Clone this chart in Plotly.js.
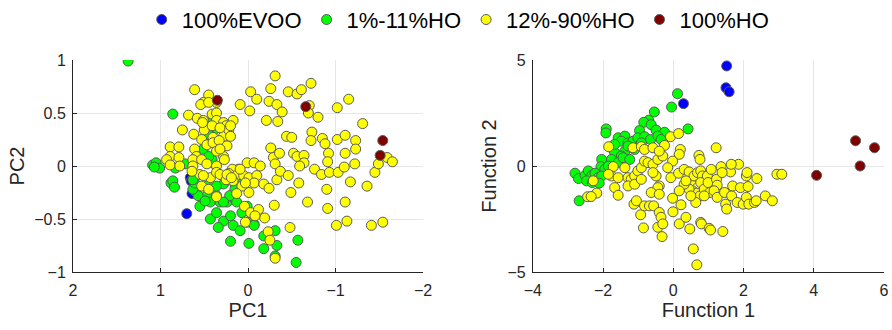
<!DOCTYPE html>
<html><head><meta charset="utf-8">
<script src="https://cdn.plot.ly/plotly-3.0.1.min.js"></script>
<style>html,body{margin:0;padding:0;background:#fff}</style>
</head><body><div id="chart" style="width:892px;height:330px"></div>
<script>
// ---- PCA (left) ----
const pcaEvooPC1 = [0.66, 0.64, 0.70, 0.65];
const pcaEvooPC2 = [-0.11, -0.26, -0.45, -0.14];
const pcaLowPC1 = [1.37,0.86,1.09,1.05,1.01,1.07,0.83,0.88,0.86,0.84,0.72,0.41,0.41,0.38,0.40,0.47,0.43,0.36,0.32,0.24,0.17,0.13,0.43,0.36,0.28,0.20,0.17,0.09,0.01,0.34,0.20,-0.01,-0.07,-0.18,-0.18,-0.31,-0.33,-0.31,-0.55,-0.57,0.28,0.15,0.13,0.07,0.59,0.57,0.63,0.61,0.47,0.36,0.51,0.45,0.43,0.45,0.41,0.63,0.55,0.49,0.15,0.21,0.01,-0.07,0.28];
const pcaLowPC2 = [0.99,0.49,0.01,0.03,-0.02,-0.01,-0.02,-0.16,-0.14,-0.20,0.02,0.03,0.06,0.38,0.33,-0.28,-0.34,-0.28,-0.34,-0.34,-0.30,-0.34,-0.50,-0.44,-0.52,-0.47,-0.56,-0.61,-0.53,-0.58,-0.71,-0.73,-0.55,-0.78,-0.66,-0.61,-0.75,-0.85,-0.91,-0.70,-0.17,-0.17,-0.13,-0.44,-0.25,-0.28,-0.22,-0.16,-0.19,-0.19,0.16,0.09,0.22,0.30,0.42,-0.13,-0.38,-0.33,-0.22,-0.28,-0.38,-0.56,-0.34];
const pcaMidPC1 = [0.61,0.45,0.36,0.51,0.54,0.45,0.09,-0.03,-0.10,-0.24,-0.26,-0.31,-0.46,-0.56,-0.61,-0.72,-0.70,-0.69,-0.80,-1.02,-1.15,-1.31,-0.33,-0.39,-0.21,-0.34,-0.02,0.68,0.58,0.51,0.41,0.36,0.36,0.17,0.28,0.25,0.75,0.62,0.50,0.40,0.28,0.22,0.20,0.89,0.79,0.89,0.93,0.79,0.89,0.61,0.59,0.53,0.47,0.40,0.33,0.24,0.28,0.27,0.36,0.32,0.63,0.63,0.53,0.47,0.36,0.55,0.43,0.36,0.64,-0.26,-0.29,-0.36,-0.44,-0.50,-0.52,-0.56,-0.64,-0.64,-0.59,-0.73,-0.72,-0.85,-0.88,-0.92,-0.91,-1.02,-1.11,-1.11,-1.23,-1.23,-1.22,0.01,-0.07,-0.14,0.11,0.18,0.22,0.32,0.13,0.05,-0.01,-0.10,-0.07,-0.18,-0.24,-0.01,0.07,0.17,0.13,0.25,-0.31,-0.33,-0.37,-0.46,-0.49,-0.58,-0.68,-0.76,-0.84,-0.93,-1.03,-1.10,-1.17,-0.90,-0.91,-1.11,-1.13,-1.01,-1.36,-1.45,-1.49,-1.59,-1.65,-1.41,-1.54,-0.30,0.04,-0.03,-0.12,-0.19,0.03,-0.08,0.36,0.51,0.53,0.45,-0.23,-0.25,-0.31,-0.48,0.24,0.19,0.09,0.03,0.41,0.32,0.20,0.78,0.52];
const pcaMidPC2 = [0.72,0.67,0.60,0.60,0.58,0.60,0.58,0.70,0.63,0.61,0.73,0.85,0.70,0.68,0.72,0.78,0.57,0.50,0.46,0.55,0.63,0.40,0.58,0.51,0.43,0.42,0.52,0.48,0.45,0.43,0.49,0.50,0.43,0.43,0.41,0.38,0.34,0.30,0.34,0.27,0.28,0.34,0.28,0.18,0.18,0.09,0.06,0.08,0.01,0.16,0.09,0.25,0.20,0.22,0.24,0.19,0.09,0.06,0.14,0.16,0.06,0.00,0.06,0.02,0.00,-0.08,-0.11,-0.06,-0.05,0.17,0.08,0.12,0.28,0.27,0.12,0.09,0.10,0.03,0.00,0.32,0.24,0.26,0.21,0.12,0.04,0.25,0.29,0.12,0.24,0.16,0.02,0.03,0.03,0.00,-0.03,-0.03,-0.07,-0.08,-0.09,-0.09,-0.11,-0.09,-0.16,-0.17,-0.21,-0.25,-0.19,-0.14,-0.26,-0.13,0.02,-0.13,-0.05,-0.09,-0.25,-0.16,-0.34,-0.03,-0.08,-0.06,-0.06,-0.01,-0.15,-0.22,-0.40,-0.34,-0.52,-0.56,-0.19,-0.06,0.02,0.08,0.04,-0.56,-0.53,-0.37,-0.38,-0.44,-0.41,-0.49,-0.53,-0.47,-0.29,-0.09,-0.19,-0.22,-0.62,-0.70,-0.87,-0.58,-0.08,-0.11,-0.03,-0.16,0.38,0.36,0.38,0.00,0.41];
const pcaHighPC1 = [0.35, -0.66, -1.54, -1.51];
const pcaHighPC2 = [0.62, 0.56, 0.24, 0.10];

// ---- Discriminant functions (right) ----
const ldaEvooF1 = [1.52, 1.50, 1.59, 0.29];
const ldaEvooF2 = [4.72, 3.69, 3.50, 2.94];
const ldaLowF1 = [0.12,-0.05,-0.54,0.42,-1.91,-1.92,-0.70,-0.84,-0.96,-0.63,-0.49,-0.25,-1.57,-1.38,-1.48,-1.29,-1.15,-1.01,-0.82,-0.65,-0.44,-0.35,-0.91,-1.76,-1.67,-1.38,-1.29,-1.10,-1.48,-1.76,-2.04,-2.06,-1.95,-2.80,-2.70,-2.51,-2.42,-2.32,-2.23,-2.14,-2.04,-2.47,-2.31,-2.11,-2.68,-1.57,-1.43,-1.24,-1.85,-1.67];
const ldaLowF2 = [3.41,2.78,2.55,1.75,1.75,1.56,2.16,2.06,1.67,1.95,1.69,1.59,1.33,1.41,1.17,1.09,1.17,1.33,1.38,1.25,1.41,1.25,1.09,0.86,0.63,0.70,0.94,0.78,0.47,0.31,0.31,-0.03,-0.16,-0.34,-0.59,-0.44,-0.23,-0.44,-0.34,-0.55,-0.47,-0.70,-0.78,-0.81,-1.64,0.16,0.39,0.31,0.00,1.02];
const ldaMidF1 = [-1.84,-1.71,-1.76,-1.57,-1.85,-1.67,-1.57,-2.28,-2.18,-2.44,-2.34,-1.38,-1.29,-1.20,-1.10,-1.01,-0.91,-0.82,-0.72,-0.58,-0.44,-0.30,-0.25,-0.08,0.15,0.20,0.17,-1.15,-0.91,-0.82,-0.58,-0.40,-0.49,-0.40,-0.02,-0.16,-0.07,0.15,0.31,-1.29,-1.10,-0.91,-0.58,-0.44,-0.63,-0.40,-1.12,-1.05,-0.93,-0.82,-0.68,-0.56,-0.85,-0.44,-0.40,-0.35,-0.30,-0.32,-0.02,-0.01,0.22,0.17,0.36,0.47,0.57,0.67,0.78,0.80,1.02,1.06,1.41,0.45,0.50,0.59,0.69,0.78,0.83,0.78,0.55,0.67,0.76,0.64,0.88,0.97,0.99,1.08,1.23,1.25,1.04,1.16,1.25,1.46,1.49,1.52,1.66,1.69,1.63,1.82,1.86,1.91,1.99,2.08,2.10,2.13,2.08,2.15,2.31,2.38,2.36,2.62,2.82,2.95,3.09,0.45,0.31,0.36,0.73,0.76,1.22,1.36,1.65,0.17,0.88,1.39,0.50];
const ldaMidF2 = [0.91,-0.03,-0.47,-0.55,-0.39,-1.02,-1.38,-0.70,-1.28,-1.45,-1.44,-0.08,-0.55,-0.63,-0.47,-0.23,-0.08,0.23,0.16,0.08,0.31,0.47,0.97,1.38,1.53,0.78,0.55,0.86,0.91,0.78,0.86,0.70,-0.47,-0.94,0.23,-0.08,-0.55,-0.34,-0.16,-0.94,-0.86,-0.63,-0.31,-1.02,-1.25,-1.33,-1.80,-1.64,-2.30,-1.88,-1.88,-1.88,-2.92,-2.89,-2.19,-2.42,-2.73,-3.33,-1.52,-2.16,-1.83,-2.73,-2.42,-2.97,-3.91,-4.66,-2.66,-2.73,-2.94,-3.02,-3.09,-0.28,-0.70,-0.47,-0.31,-0.23,-0.47,-0.78,-1.17,-1.28,-1.41,-1.72,-1.09,-0.47,-0.78,-0.16,-0.63,-0.91,-1.25,-1.17,-1.48,-1.25,-1.80,-2.03,-1.41,-0.94,-0.28,-1.72,0.08,-1.02,-1.80,-0.47,-0.31,-0.97,-1.48,-1.80,-1.72,-0.59,-1.64,-1.41,-1.64,-0.39,-0.39,-1.09,-0.86,-0.70,0.50,0.31,0.86,-0.03,0.08,-1.17,-1.41,-0.31,-1.41];
const ldaHighF1 = [4.08, 5.19, 5.32, 5.73];
const ldaHighF2 = [-0.44, 1.19, 0.00, 0.86];

const groupNames = ['100%EVOO', '1%-11%HO', '12%-90%HO', '100%HO'];
const groupColors = ['#0000ff', '#00ff00', '#ffff00', '#800000'];

const pcaX = [pcaEvooPC1, pcaLowPC1, pcaMidPC1, pcaHighPC1];
const pcaY = [pcaEvooPC2, pcaLowPC2, pcaMidPC2, pcaHighPC2];
const ldaX = [ldaEvooF1, ldaLowF1, ldaMidF1, ldaHighF1];
const ldaY = [ldaEvooF2, ldaLowF2, ldaMidF2, ldaHighF2];

const traces = [];
const mk = (i) => ({size: 10, color: groupColors[i], line: {color: '#5a5a5a', width: 1}});
[0, 1, 2, 3].forEach(i => {
  traces.push({type: 'scatter', mode: 'markers', x: pcaX[i], y: pcaY[i], xaxis: 'x', yaxis: 'y',
    name: groupNames[i], legendgroup: groupNames[i], showlegend: true, marker: mk(i)});
  traces.push({type: 'scatter', mode: 'markers', x: ldaX[i], y: ldaY[i], xaxis: 'x2', yaxis: 'y2',
    name: groupNames[i], legendgroup: groupNames[i], showlegend: false, marker: mk(i)});
});

const axisCommon = {
  showgrid: true, gridcolor: '#e6e6e6', gridwidth: 1, zeroline: false,
  showline: true, linecolor: '#262626', linewidth: 1, mirror: false,
  ticks: 'inside', ticklen: 4, tickcolor: '#262626',
  tickfont: {family: 'Liberation Sans, Arial, sans-serif', size: 16, color: '#262626'}
};
const titleFont = {family: 'Liberation Sans, Arial, sans-serif', size: 20, color: '#262626'};

const layout = {
  width: 892, height: 330,
  margin: {l: 73, r: 8, t: 60, b: 58, autoexpand: false},
  paper_bgcolor: '#ffffff', plot_bgcolor: '#ffffff',
  showlegend: true,
  legend: {orientation: 'h', x: 0.475, xanchor: 'center', y: 1.19, yanchor: 'middle',
    font: {family: 'Liberation Sans, Arial, sans-serif', size: 22, color: '#000'},
    itemwidth: 30},
  xaxis: Object.assign({}, axisCommon, {domain: [0, 0.4316], range: [2, -2], autorange: false,
    tickvals: [2, 1, 0, -1, -2], anchor: 'y', ticklabelstandoff: 4,
    title: {text: 'PC1', font: titleFont, standoff: 2}}),
  yaxis: Object.assign({}, axisCommon, {domain: [0, 1], range: [-1, 1], tickvals: [-1, -0.5, 0, 0.5, 1], anchor: 'x',
    ticklabelstandoff: 3, title: {text: 'PC2', font: titleFont, standoff: 4}}),
  xaxis2: Object.assign({}, axisCommon, {domain: [0.567, 1], range: [-4, 6], tickvals: [-4, -2, 0, 2, 4, 6], anchor: 'y2',
    ticklabelstandoff: 4, title: {text: 'Function 1', font: titleFont, standoff: 2}}),
  yaxis2: Object.assign({}, axisCommon, {domain: [0, 1], range: [-5, 5], tickvals: [-5, 0, 5], anchor: 'x2',
    ticklabelstandoff: 3, title: {text: 'Function 2', font: titleFont, standoff: 5}})
};

Plotly.newPlot('chart', traces, layout, {staticPlot: true, displayModeBar: false});
</script>
</body></html>
